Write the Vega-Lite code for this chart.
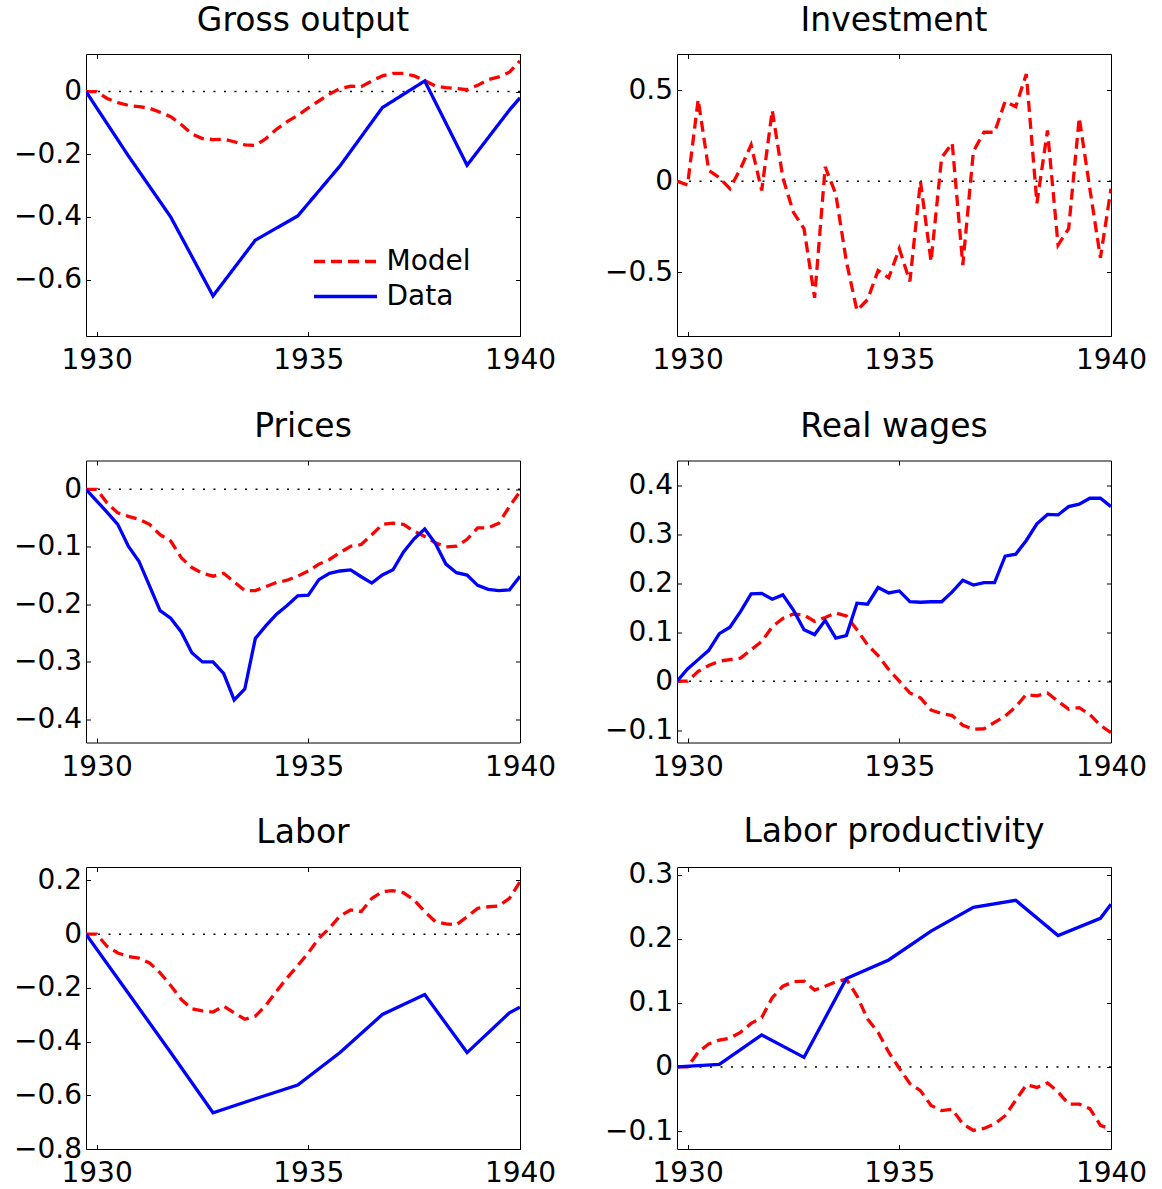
{
"$schema":"https://vega.github.io/schema/vega-lite/v6.json",
"background":"white",
"padding":{"left":13,"top":4,"right":0,"bottom":0},
"datasets":{
"G":[
{"s":"Model","x":1929.75,"y":0},{"s":"Model","x":1930,"y":0},{"s":"Model","x":1930.25,"y":-0.022},{"s":"Model","x":1930.5,"y":-0.035},{"s":"Model","x":1930.75,"y":-0.044},{"s":"Model","x":1931,"y":-0.048},{"s":"Model","x":1931.25,"y":-0.053},{"s":"Model","x":1931.5,"y":-0.066},{"s":"Model","x":1931.75,"y":-0.08},{"s":"Model","x":1932,"y":-0.105},{"s":"Model","x":1932.25,"y":-0.135},{"s":"Model","x":1932.5,"y":-0.15},{"s":"Model","x":1932.75,"y":-0.153},{"s":"Model","x":1933,"y":-0.152},{"s":"Model","x":1933.25,"y":-0.16},{"s":"Model","x":1933.5,"y":-0.17},{"s":"Model","x":1933.75,"y":-0.172},{"s":"Model","x":1934,"y":-0.15},{"s":"Model","x":1934.25,"y":-0.12},{"s":"Model","x":1934.5,"y":-0.096},{"s":"Model","x":1934.75,"y":-0.076},{"s":"Model","x":1935,"y":-0.052},{"s":"Model","x":1935.25,"y":-0.03},{"s":"Model","x":1935.5,"y":-0.008},{"s":"Model","x":1935.75,"y":0.01},{"s":"Model","x":1936,"y":0.017},{"s":"Model","x":1936.25,"y":0.016},{"s":"Model","x":1936.5,"y":0.034},{"s":"Model","x":1936.75,"y":0.05},{"s":"Model","x":1937,"y":0.058},{"s":"Model","x":1937.25,"y":0.058},{"s":"Model","x":1937.5,"y":0.05},{"s":"Model","x":1937.75,"y":0.035},{"s":"Model","x":1938,"y":0.018},{"s":"Model","x":1938.25,"y":0.013},{"s":"Model","x":1938.5,"y":0.01},{"s":"Model","x":1938.75,"y":0.006},{"s":"Model","x":1939,"y":0.02},{"s":"Model","x":1939.25,"y":0.038},{"s":"Model","x":1939.5,"y":0.047},{"s":"Model","x":1939.75,"y":0.062},{"s":"Model","x":1940,"y":0.098},
{"s":"Data","x":1929.75,"y":0},{"s":"Data","x":1930.75,"y":-0.205},{"s":"Data","x":1931.75,"y":-0.4},{"s":"Data","x":1932.75,"y":-0.652},{"s":"Data","x":1933.75,"y":-0.474},{"s":"Data","x":1934.75,"y":-0.397},{"s":"Data","x":1935.75,"y":-0.237},{"s":"Data","x":1936.75,"y":-0.051},{"s":"Data","x":1937.75,"y":0.034},{"s":"Data","x":1938.75,"y":-0.235},{"s":"Data","x":1939.75,"y":-0.059},{"s":"Data","x":1940,"y":-0.02}
],
"I":[
{"s":"Model","x":1929.75,"y":0},{"s":"Model","x":1930,"y":-0.02},{"s":"Model","x":1930.25,"y":0.45},{"s":"Model","x":1930.5,"y":0.06},{"s":"Model","x":1930.75,"y":0.02},{"s":"Model","x":1931,"y":-0.04},{"s":"Model","x":1931.25,"y":0.07},{"s":"Model","x":1931.5,"y":0.2},{"s":"Model","x":1931.75,"y":-0.05},{"s":"Model","x":1932,"y":0.39},{"s":"Model","x":1932.25,"y":0.02},{"s":"Model","x":1932.5,"y":-0.17},{"s":"Model","x":1932.75,"y":-0.26},{"s":"Model","x":1933,"y":-0.64},{"s":"Model","x":1933.25,"y":0.08},{"s":"Model","x":1933.5,"y":-0.07},{"s":"Model","x":1933.75,"y":-0.44},{"s":"Model","x":1934,"y":-0.71},{"s":"Model","x":1934.25,"y":-0.65},{"s":"Model","x":1934.5,"y":-0.49},{"s":"Model","x":1934.75,"y":-0.53},{"s":"Model","x":1935,"y":-0.37},{"s":"Model","x":1935.25,"y":-0.55},{"s":"Model","x":1935.5,"y":0},{"s":"Model","x":1935.75,"y":-0.44},{"s":"Model","x":1936,"y":0.13},{"s":"Model","x":1936.25,"y":0.21},{"s":"Model","x":1936.5,"y":-0.46},{"s":"Model","x":1936.75,"y":0.165},{"s":"Model","x":1937,"y":0.27},{"s":"Model","x":1937.25,"y":0.27},{"s":"Model","x":1937.5,"y":0.44},{"s":"Model","x":1937.75,"y":0.41},{"s":"Model","x":1938,"y":0.59},{"s":"Model","x":1938.25,"y":-0.12},{"s":"Model","x":1938.5,"y":0.28},{"s":"Model","x":1938.75,"y":-0.35},{"s":"Model","x":1939,"y":-0.26},{"s":"Model","x":1939.25,"y":0.35},{"s":"Model","x":1939.5,"y":-0.04},{"s":"Model","x":1939.75,"y":-0.42},{"s":"Model","x":1940,"y":-0.04}
],
"P":[
{"s":"Model","x":1929.75,"y":0},{"s":"Model","x":1930,"y":0},{"s":"Model","x":1930.25,"y":-0.024},{"s":"Model","x":1930.5,"y":-0.041},{"s":"Model","x":1930.75,"y":-0.047},{"s":"Model","x":1931,"y":-0.052},{"s":"Model","x":1931.25,"y":-0.061},{"s":"Model","x":1931.5,"y":-0.079},{"s":"Model","x":1931.75,"y":-0.09},{"s":"Model","x":1932,"y":-0.119},{"s":"Model","x":1932.25,"y":-0.136},{"s":"Model","x":1932.5,"y":-0.146},{"s":"Model","x":1932.75,"y":-0.151},{"s":"Model","x":1933,"y":-0.146},{"s":"Model","x":1933.25,"y":-0.161},{"s":"Model","x":1933.5,"y":-0.176},{"s":"Model","x":1933.75,"y":-0.176},{"s":"Model","x":1934,"y":-0.169},{"s":"Model","x":1934.25,"y":-0.162},{"s":"Model","x":1934.5,"y":-0.158},{"s":"Model","x":1934.75,"y":-0.151},{"s":"Model","x":1935,"y":-0.142},{"s":"Model","x":1935.25,"y":-0.13},{"s":"Model","x":1935.5,"y":-0.122},{"s":"Model","x":1935.75,"y":-0.11},{"s":"Model","x":1936,"y":-0.099},{"s":"Model","x":1936.25,"y":-0.096},{"s":"Model","x":1936.5,"y":-0.079},{"s":"Model","x":1936.75,"y":-0.061},{"s":"Model","x":1937,"y":-0.059},{"s":"Model","x":1937.25,"y":-0.061},{"s":"Model","x":1937.5,"y":-0.073},{"s":"Model","x":1937.75,"y":-0.082},{"s":"Model","x":1938,"y":-0.093},{"s":"Model","x":1938.25,"y":-0.1},{"s":"Model","x":1938.5,"y":-0.099},{"s":"Model","x":1938.75,"y":-0.087},{"s":"Model","x":1939,"y":-0.067},{"s":"Model","x":1939.25,"y":-0.067},{"s":"Model","x":1939.5,"y":-0.059},{"s":"Model","x":1939.75,"y":-0.03},{"s":"Model","x":1940,"y":-0.004},
{"s":"Data","x":1929.75,"y":0},{"s":"Data","x":1930,"y":-0.02},{"s":"Data","x":1930.25,"y":-0.04},{"s":"Data","x":1930.5,"y":-0.061},{"s":"Data","x":1930.75,"y":-0.099},{"s":"Data","x":1931,"y":-0.125},{"s":"Data","x":1931.25,"y":-0.168},{"s":"Data","x":1931.5,"y":-0.211},{"s":"Data","x":1931.75,"y":-0.224},{"s":"Data","x":1932,"y":-0.248},{"s":"Data","x":1932.25,"y":-0.284},{"s":"Data","x":1932.5,"y":-0.3},{"s":"Data","x":1932.75,"y":-0.3},{"s":"Data","x":1933,"y":-0.32},{"s":"Data","x":1933.25,"y":-0.366},{"s":"Data","x":1933.5,"y":-0.347},{"s":"Data","x":1933.75,"y":-0.259},{"s":"Data","x":1934,"y":-0.237},{"s":"Data","x":1934.25,"y":-0.217},{"s":"Data","x":1934.5,"y":-0.202},{"s":"Data","x":1934.75,"y":-0.185},{"s":"Data","x":1935,"y":-0.184},{"s":"Data","x":1935.25,"y":-0.157},{"s":"Data","x":1935.5,"y":-0.146},{"s":"Data","x":1935.75,"y":-0.142},{"s":"Data","x":1936,"y":-0.14},{"s":"Data","x":1936.25,"y":-0.152},{"s":"Data","x":1936.5,"y":-0.163},{"s":"Data","x":1936.75,"y":-0.149},{"s":"Data","x":1937,"y":-0.14},{"s":"Data","x":1937.25,"y":-0.109},{"s":"Data","x":1937.5,"y":-0.086},{"s":"Data","x":1937.75,"y":-0.069},{"s":"Data","x":1938,"y":-0.094},{"s":"Data","x":1938.25,"y":-0.13},{"s":"Data","x":1938.5,"y":-0.145},{"s":"Data","x":1938.75,"y":-0.149},{"s":"Data","x":1939,"y":-0.167},{"s":"Data","x":1939.25,"y":-0.174},{"s":"Data","x":1939.5,"y":-0.176},{"s":"Data","x":1939.75,"y":-0.175},{"s":"Data","x":1940,"y":-0.151}
],
"W":[
{"s":"Model","x":1929.75,"y":0},{"s":"Model","x":1930,"y":0},{"s":"Model","x":1930.25,"y":0.02},{"s":"Model","x":1930.5,"y":0.032},{"s":"Model","x":1930.75,"y":0.041},{"s":"Model","x":1931,"y":0.044},{"s":"Model","x":1931.25,"y":0.047},{"s":"Model","x":1931.5,"y":0.064},{"s":"Model","x":1931.75,"y":0.081},{"s":"Model","x":1932,"y":0.111},{"s":"Model","x":1932.25,"y":0.128},{"s":"Model","x":1932.5,"y":0.137},{"s":"Model","x":1932.75,"y":0.135},{"s":"Model","x":1933,"y":0.122},{"s":"Model","x":1933.25,"y":0.13},{"s":"Model","x":1933.5,"y":0.139},{"s":"Model","x":1933.75,"y":0.133},{"s":"Model","x":1934,"y":0.105},{"s":"Model","x":1934.25,"y":0.074},{"s":"Model","x":1934.5,"y":0.052},{"s":"Model","x":1934.75,"y":0.024},{"s":"Model","x":1935,"y":0},{"s":"Model","x":1935.25,"y":-0.024},{"s":"Model","x":1935.5,"y":-0.034},{"s":"Model","x":1935.75,"y":-0.059},{"s":"Model","x":1936,"y":-0.066},{"s":"Model","x":1936.25,"y":-0.07},{"s":"Model","x":1936.5,"y":-0.09},{"s":"Model","x":1936.75,"y":-0.098},{"s":"Model","x":1937,"y":-0.097},{"s":"Model","x":1937.25,"y":-0.084},{"s":"Model","x":1937.5,"y":-0.071},{"s":"Model","x":1937.75,"y":-0.052},{"s":"Model","x":1938,"y":-0.027},{"s":"Model","x":1938.25,"y":-0.03},{"s":"Model","x":1938.5,"y":-0.024},{"s":"Model","x":1938.75,"y":-0.041},{"s":"Model","x":1939,"y":-0.057},{"s":"Model","x":1939.25,"y":-0.054},{"s":"Model","x":1939.5,"y":-0.068},{"s":"Model","x":1939.75,"y":-0.09},{"s":"Model","x":1940,"y":-0.105},
{"s":"Data","x":1929.75,"y":0},{"s":"Data","x":1930,"y":0.025},{"s":"Data","x":1930.25,"y":0.044},{"s":"Data","x":1930.5,"y":0.063},{"s":"Data","x":1930.75,"y":0.097},{"s":"Data","x":1931,"y":0.11},{"s":"Data","x":1931.25,"y":0.142},{"s":"Data","x":1931.5,"y":0.178},{"s":"Data","x":1931.75,"y":0.179},{"s":"Data","x":1932,"y":0.167},{"s":"Data","x":1932.25,"y":0.176},{"s":"Data","x":1932.5,"y":0.145},{"s":"Data","x":1932.75,"y":0.105},{"s":"Data","x":1933,"y":0.095},{"s":"Data","x":1933.25,"y":0.124},{"s":"Data","x":1933.5,"y":0.088},{"s":"Data","x":1933.75,"y":0.093},{"s":"Data","x":1934,"y":0.159},{"s":"Data","x":1934.25,"y":0.157},{"s":"Data","x":1934.5,"y":0.191},{"s":"Data","x":1934.75,"y":0.18},{"s":"Data","x":1935,"y":0.184},{"s":"Data","x":1935.25,"y":0.162},{"s":"Data","x":1935.5,"y":0.161},{"s":"Data","x":1935.75,"y":0.162},{"s":"Data","x":1936,"y":0.162},{"s":"Data","x":1936.25,"y":0.182},{"s":"Data","x":1936.5,"y":0.206},{"s":"Data","x":1936.75,"y":0.196},{"s":"Data","x":1937,"y":0.201},{"s":"Data","x":1937.25,"y":0.201},{"s":"Data","x":1937.5,"y":0.255},{"s":"Data","x":1937.75,"y":0.259},{"s":"Data","x":1938,"y":0.287},{"s":"Data","x":1938.25,"y":0.321},{"s":"Data","x":1938.5,"y":0.34},{"s":"Data","x":1938.75,"y":0.339},{"s":"Data","x":1939,"y":0.356},{"s":"Data","x":1939.25,"y":0.361},{"s":"Data","x":1939.5,"y":0.373},{"s":"Data","x":1939.75,"y":0.373},{"s":"Data","x":1940,"y":0.356}
],
"L":[
{"s":"Model","x":1929.75,"y":0},{"s":"Model","x":1930,"y":0},{"s":"Model","x":1930.25,"y":-0.046},{"s":"Model","x":1930.5,"y":-0.07},{"s":"Model","x":1930.75,"y":-0.083},{"s":"Model","x":1931,"y":-0.089},{"s":"Model","x":1931.25,"y":-0.107},{"s":"Model","x":1931.5,"y":-0.144},{"s":"Model","x":1931.75,"y":-0.191},{"s":"Model","x":1932,"y":-0.243},{"s":"Model","x":1932.25,"y":-0.278},{"s":"Model","x":1932.5,"y":-0.286},{"s":"Model","x":1932.75,"y":-0.29},{"s":"Model","x":1933,"y":-0.268},{"s":"Model","x":1933.25,"y":-0.293},{"s":"Model","x":1933.5,"y":-0.317},{"s":"Model","x":1933.75,"y":-0.305},{"s":"Model","x":1934,"y":-0.265},{"s":"Model","x":1934.25,"y":-0.212},{"s":"Model","x":1934.5,"y":-0.163},{"s":"Model","x":1934.75,"y":-0.117},{"s":"Model","x":1935,"y":-0.07},{"s":"Model","x":1935.25,"y":-0.015},{"s":"Model","x":1935.5,"y":0.022},{"s":"Model","x":1935.75,"y":0.068},{"s":"Model","x":1936,"y":0.09},{"s":"Model","x":1936.25,"y":0.084},{"s":"Model","x":1936.5,"y":0.133},{"s":"Model","x":1936.75,"y":0.158},{"s":"Model","x":1937,"y":0.162},{"s":"Model","x":1937.25,"y":0.154},{"s":"Model","x":1937.5,"y":0.127},{"s":"Model","x":1937.75,"y":0.084},{"s":"Model","x":1938,"y":0.047},{"s":"Model","x":1938.25,"y":0.038},{"s":"Model","x":1938.5,"y":0.035},{"s":"Model","x":1938.75,"y":0.065},{"s":"Model","x":1939,"y":0.096},{"s":"Model","x":1939.25,"y":0.102},{"s":"Model","x":1939.5,"y":0.105},{"s":"Model","x":1939.75,"y":0.133},{"s":"Model","x":1940,"y":0.195},
{"s":"Data","x":1929.75,"y":0},{"s":"Data","x":1930.75,"y":-0.22},{"s":"Data","x":1931.75,"y":-0.441},{"s":"Data","x":1932.75,"y":-0.665},{"s":"Data","x":1933.75,"y":-0.613},{"s":"Data","x":1934.75,"y":-0.562},{"s":"Data","x":1935.75,"y":-0.441},{"s":"Data","x":1936.75,"y":-0.299},{"s":"Data","x":1937.75,"y":-0.225},{"s":"Data","x":1938.75,"y":-0.441},{"s":"Data","x":1939.75,"y":-0.293},{"s":"Data","x":1940,"y":-0.272}
],
"LP":[
{"s":"Model","x":1929.75,"y":0},{"s":"Model","x":1930,"y":0},{"s":"Model","x":1930.25,"y":0.023},{"s":"Model","x":1930.5,"y":0.036},{"s":"Model","x":1930.75,"y":0.042},{"s":"Model","x":1931,"y":0.045},{"s":"Model","x":1931.25,"y":0.054},{"s":"Model","x":1931.5,"y":0.068},{"s":"Model","x":1931.75,"y":0.077},{"s":"Model","x":1932,"y":0.108},{"s":"Model","x":1932.25,"y":0.126},{"s":"Model","x":1932.5,"y":0.133},{"s":"Model","x":1932.75,"y":0.134},{"s":"Model","x":1933,"y":0.12},{"s":"Model","x":1933.25,"y":0.126},{"s":"Model","x":1933.5,"y":0.133},{"s":"Model","x":1933.75,"y":0.137},{"s":"Model","x":1934,"y":0.111},{"s":"Model","x":1934.25,"y":0.075},{"s":"Model","x":1934.5,"y":0.054},{"s":"Model","x":1934.75,"y":0.023},{"s":"Model","x":1935,"y":-0.002},{"s":"Model","x":1935.25,"y":-0.026},{"s":"Model","x":1935.5,"y":-0.037},{"s":"Model","x":1935.75,"y":-0.06},{"s":"Model","x":1936,"y":-0.068},{"s":"Model","x":1936.25,"y":-0.066},{"s":"Model","x":1936.5,"y":-0.089},{"s":"Model","x":1936.75,"y":-0.099},{"s":"Model","x":1937,"y":-0.096},{"s":"Model","x":1937.25,"y":-0.089},{"s":"Model","x":1937.5,"y":-0.076},{"s":"Model","x":1937.75,"y":-0.052},{"s":"Model","x":1938,"y":-0.028},{"s":"Model","x":1938.25,"y":-0.032},{"s":"Model","x":1938.5,"y":-0.025},{"s":"Model","x":1938.75,"y":-0.039},{"s":"Model","x":1939,"y":-0.058},{"s":"Model","x":1939.25,"y":-0.058},{"s":"Model","x":1939.5,"y":-0.065},{"s":"Model","x":1939.75,"y":-0.091},{"s":"Model","x":1940,"y":-0.097},
{"s":"Data","x":1929.75,"y":0},{"s":"Data","x":1930.75,"y":0.004},{"s":"Data","x":1931.75,"y":0.05},{"s":"Data","x":1932.75,"y":0.015},{"s":"Data","x":1933.75,"y":0.138},{"s":"Data","x":1934.75,"y":0.167},{"s":"Data","x":1935.75,"y":0.212},{"s":"Data","x":1936.75,"y":0.249},{"s":"Data","x":1937.75,"y":0.26},{"s":"Data","x":1938.75,"y":0.205},{"s":"Data","x":1939.75,"y":0.232},{"s":"Data","x":1940,"y":0.254}
]
},
"concat":[
{"width":434,"height":282,"title":"Gross output","layer":[
{"data":{"values":[{}]},"mark":{"type":"rule","color":"black","strokeWidth":1.5,"strokeDash":[2,8.5]},"encoding":{"y":{"datum":0,"type":"quantitative","scale":{"domain":[-0.78,0.12],"nice":false,"zero":false},"axis":null}}},
{"data":{"name":"G"},"transform":[{"filter":"datum.s=='Model'"}],"mark":{"type":"line","clip":true,"strokeWidth":3.3},"encoding":{
"x":{"field":"x","type":"quantitative","scale":{"domain":[1929.75,1940],"nice":false,"zero":false},"axis":{"orient":"bottom","values":[1930,1935,1940],"format":"d","title":null}},
"y":{"field":"y","type":"quantitative","scale":{"domain":[-0.78,0.12],"nice":false,"zero":false},"axis":{"orient":"left","values":[-0.6,-0.4,-0.2,0],"format":"~g","title":null}},
"color":{"field":"s","type":"nominal","scale":{"domain":["Model","Data"],"range":["#ff0000","#0000ff"]},"legend":{"orient":"none","legendX":245,"legendY":193,"title":null,"symbolType":"M-2.52,0H2.52","symbolSize":625,"symbolStrokeWidth":3.3,"symbolFillColor":"transparent","labelFontSize":28,"labelFont":"DejaVu Sans","labelColor":"black","labelOffset":26.5,"padding":0,"rowPadding":6}},
"strokeDash":{"field":"s","type":"nominal","scale":{"domain":["Model","Data"],"range":[[11,6],[1,0]]},"legend":{"orient":"none","legendX":245,"legendY":193,"title":null,"symbolType":"M-2.52,0H2.52","symbolSize":625,"symbolStrokeWidth":3.3,"symbolFillColor":"transparent","labelFontSize":28,"labelFont":"DejaVu Sans","labelColor":"black","labelOffset":26.5,"padding":0,"rowPadding":6}}}},
{"data":{"name":"G"},"transform":[{"filter":"datum.s=='Data'"}],"mark":{"type":"line","clip":true,"strokeWidth":3.3},"encoding":{
"x":{"field":"x","type":"quantitative","scale":{"domain":[1929.75,1940],"nice":false,"zero":false},"axis":null},
"y":{"field":"y","type":"quantitative","scale":{"domain":[-0.78,0.12],"nice":false,"zero":false},"axis":null},
"color":{"field":"s","type":"nominal","scale":{"domain":["Model","Data"],"range":["#ff0000","#0000ff"]},"legend":{"orient":"none","legendX":245,"legendY":193,"title":null,"symbolType":"M-2.52,0H2.52","symbolSize":625,"symbolStrokeWidth":3.3,"symbolFillColor":"transparent","labelFontSize":28,"labelFont":"DejaVu Sans","labelColor":"black","labelOffset":26.5,"padding":0,"rowPadding":6}},
"strokeDash":{"field":"s","type":"nominal","scale":{"domain":["Model","Data"],"range":[[11,6],[1,0]]},"legend":{"orient":"none","legendX":245,"legendY":193,"title":null,"symbolType":"M-2.52,0H2.52","symbolSize":625,"symbolStrokeWidth":3.3,"symbolFillColor":"transparent","labelFontSize":28,"labelFont":"DejaVu Sans","labelColor":"black","labelOffset":26.5,"padding":0,"rowPadding":6}}}},
{"data":{"name":"G"},"mark":{"type":"line","opacity":0},"encoding":{
"x":{"field":"x","type":"quantitative","scale":{"domain":[1929.75,1940],"nice":false,"zero":false},"axis":{"orient":"top","values":[1930,1935,1940],"labels":false,"title":null}},
"y":{"field":"y","type":"quantitative","scale":{"domain":[-0.78,0.12],"nice":false,"zero":false},"axis":{"orient":"right","values":[-0.6,-0.4,-0.2,0],"labels":false,"title":null}},
"detail":{"field":"s"}}}
],"resolve":{"axis":{"x":"independent","y":"independent"}}},
{"width":434,"height":282,"title":"Investment","layer":[
{"data":{"values":[{}]},"mark":{"type":"rule","color":"black","strokeWidth":1.5,"strokeDash":[2,8.5]},"encoding":{"y":{"datum":0,"type":"quantitative","scale":{"domain":[-0.85,0.7],"nice":false,"zero":false},"axis":null}}},
{"data":{"name":"I"},"transform":[{"filter":"datum.s=='Model'"}],"mark":{"type":"line","clip":true,"strokeWidth":3.3,"color":"#ff0000","strokeDash":[11,6]},"encoding":{
"x":{"field":"x","type":"quantitative","scale":{"domain":[1929.75,1940],"nice":false,"zero":false},"axis":{"orient":"bottom","values":[1930,1935,1940],"format":"d","title":null}},
"y":{"field":"y","type":"quantitative","scale":{"domain":[-0.85,0.7],"nice":false,"zero":false},"axis":{"orient":"left","values":[-0.5,0,0.5],"format":"~g","title":null}}}},
{"data":{"name":"I"},"mark":{"type":"line","opacity":0},"encoding":{
"x":{"field":"x","type":"quantitative","scale":{"domain":[1929.75,1940],"nice":false,"zero":false},"axis":{"orient":"top","values":[1930,1935,1940],"labels":false,"title":null}},
"y":{"field":"y","type":"quantitative","scale":{"domain":[-0.85,0.7],"nice":false,"zero":false},"axis":{"orient":"right","values":[-0.5,0,0.5],"labels":false,"title":null}}}}
],"resolve":{"axis":{"x":"independent","y":"independent"}}},
{"width":434,"height":282,"title":"Prices","layer":[
{"data":{"values":[{}]},"mark":{"type":"rule","color":"black","strokeWidth":1.5,"strokeDash":[2,8.5]},"encoding":{"y":{"datum":0,"type":"quantitative","scale":{"domain":[-0.44,0.05],"nice":false,"zero":false},"axis":null}}},
{"data":{"name":"P"},"transform":[{"filter":"datum.s=='Model'"}],"mark":{"type":"line","clip":true,"strokeWidth":3.3,"color":"#ff0000","strokeDash":[11,6]},"encoding":{
"x":{"field":"x","type":"quantitative","scale":{"domain":[1929.75,1940],"nice":false,"zero":false},"axis":{"orient":"bottom","values":[1930,1935,1940],"format":"d","title":null}},
"y":{"field":"y","type":"quantitative","scale":{"domain":[-0.44,0.05],"nice":false,"zero":false},"axis":{"orient":"left","values":[-0.4,-0.3,-0.2,-0.1,0],"format":"~g","title":null}}}},
{"data":{"name":"P"},"transform":[{"filter":"datum.s=='Data'"}],"mark":{"type":"line","clip":true,"strokeWidth":3.3,"color":"#0000ff"},"encoding":{
"x":{"field":"x","type":"quantitative","scale":{"domain":[1929.75,1940],"nice":false,"zero":false},"axis":null},
"y":{"field":"y","type":"quantitative","scale":{"domain":[-0.44,0.05],"nice":false,"zero":false},"axis":null}}},
{"data":{"name":"P"},"mark":{"type":"line","opacity":0},"encoding":{
"x":{"field":"x","type":"quantitative","scale":{"domain":[1929.75,1940],"nice":false,"zero":false},"axis":{"orient":"top","values":[1930,1935,1940],"labels":false,"title":null}},
"y":{"field":"y","type":"quantitative","scale":{"domain":[-0.44,0.05],"nice":false,"zero":false},"axis":{"orient":"right","values":[-0.4,-0.3,-0.2,-0.1,0],"labels":false,"title":null}},
"detail":{"field":"s"}}}
],"resolve":{"axis":{"x":"independent","y":"independent"}}},
{"width":434,"height":282,"title":"Real wages","layer":[
{"data":{"values":[{}]},"mark":{"type":"rule","color":"black","strokeWidth":1.5,"strokeDash":[2,8.5]},"encoding":{"y":{"datum":0,"type":"quantitative","scale":{"domain":[-0.125,0.45],"nice":false,"zero":false},"axis":null}}},
{"data":{"name":"W"},"transform":[{"filter":"datum.s=='Model'"}],"mark":{"type":"line","clip":true,"strokeWidth":3.3,"color":"#ff0000","strokeDash":[11,6]},"encoding":{
"x":{"field":"x","type":"quantitative","scale":{"domain":[1929.75,1940],"nice":false,"zero":false},"axis":{"orient":"bottom","values":[1930,1935,1940],"format":"d","title":null}},
"y":{"field":"y","type":"quantitative","scale":{"domain":[-0.125,0.45],"nice":false,"zero":false},"axis":{"orient":"left","values":[-0.1,0,0.1,0.2,0.3,0.4],"format":"~g","title":null}}}},
{"data":{"name":"W"},"transform":[{"filter":"datum.s=='Data'"}],"mark":{"type":"line","clip":true,"strokeWidth":3.3,"color":"#0000ff"},"encoding":{
"x":{"field":"x","type":"quantitative","scale":{"domain":[1929.75,1940],"nice":false,"zero":false},"axis":null},
"y":{"field":"y","type":"quantitative","scale":{"domain":[-0.125,0.45],"nice":false,"zero":false},"axis":null}}},
{"data":{"name":"W"},"mark":{"type":"line","opacity":0},"encoding":{
"x":{"field":"x","type":"quantitative","scale":{"domain":[1929.75,1940],"nice":false,"zero":false},"axis":{"orient":"top","values":[1930,1935,1940],"labels":false,"title":null}},
"y":{"field":"y","type":"quantitative","scale":{"domain":[-0.125,0.45],"nice":false,"zero":false},"axis":{"orient":"right","values":[-0.1,0,0.1,0.2,0.3,0.4],"labels":false,"title":null}},
"detail":{"field":"s"}}}
],"resolve":{"axis":{"x":"independent","y":"independent"}}},
{"width":434,"height":282,"title":"Labor","layer":[
{"data":{"values":[{}]},"mark":{"type":"rule","color":"black","strokeWidth":1.5,"strokeDash":[2,8.5]},"encoding":{"y":{"datum":0,"type":"quantitative","scale":{"domain":[-0.8,0.25],"nice":false,"zero":false},"axis":null}}},
{"data":{"name":"L"},"transform":[{"filter":"datum.s=='Model'"}],"mark":{"type":"line","clip":true,"strokeWidth":3.3,"color":"#ff0000","strokeDash":[11,6]},"encoding":{
"x":{"field":"x","type":"quantitative","scale":{"domain":[1929.75,1940],"nice":false,"zero":false},"axis":{"orient":"bottom","values":[1930,1935,1940],"format":"d","title":null}},
"y":{"field":"y","type":"quantitative","scale":{"domain":[-0.8,0.25],"nice":false,"zero":false},"axis":{"orient":"left","values":[-0.8,-0.6,-0.4,-0.2,0,0.2],"format":"~g","title":null}}}},
{"data":{"name":"L"},"transform":[{"filter":"datum.s=='Data'"}],"mark":{"type":"line","clip":true,"strokeWidth":3.3,"color":"#0000ff"},"encoding":{
"x":{"field":"x","type":"quantitative","scale":{"domain":[1929.75,1940],"nice":false,"zero":false},"axis":null},
"y":{"field":"y","type":"quantitative","scale":{"domain":[-0.8,0.25],"nice":false,"zero":false},"axis":null}}},
{"data":{"name":"L"},"mark":{"type":"line","opacity":0},"encoding":{
"x":{"field":"x","type":"quantitative","scale":{"domain":[1929.75,1940],"nice":false,"zero":false},"axis":{"orient":"top","values":[1930,1935,1940],"labels":false,"title":null}},
"y":{"field":"y","type":"quantitative","scale":{"domain":[-0.8,0.25],"nice":false,"zero":false},"axis":{"orient":"right","values":[-0.8,-0.6,-0.4,-0.2,0,0.2],"labels":false,"title":null}},
"detail":{"field":"s"}}}
],"resolve":{"axis":{"x":"independent","y":"independent"}}},
{"width":434,"height":282,"title":{"text":"Labor productivity","offset":12},"layer":[
{"data":{"values":[{}]},"mark":{"type":"rule","color":"black","strokeWidth":1.5,"strokeDash":[2,8.5]},"encoding":{"y":{"datum":0,"type":"quantitative","scale":{"domain":[-0.128,0.312],"nice":false,"zero":false},"axis":null}}},
{"data":{"name":"LP"},"transform":[{"filter":"datum.s=='Model'"}],"mark":{"type":"line","clip":true,"strokeWidth":3.3,"color":"#ff0000","strokeDash":[11,6]},"encoding":{
"x":{"field":"x","type":"quantitative","scale":{"domain":[1929.75,1940],"nice":false,"zero":false},"axis":{"orient":"bottom","values":[1930,1935,1940],"format":"d","title":null}},
"y":{"field":"y","type":"quantitative","scale":{"domain":[-0.128,0.312],"nice":false,"zero":false},"axis":{"orient":"left","values":[-0.1,0,0.1,0.2,0.3],"format":"~g","title":null}}}},
{"data":{"name":"LP"},"transform":[{"filter":"datum.s=='Data'"}],"mark":{"type":"line","clip":true,"strokeWidth":3.3,"color":"#0000ff"},"encoding":{
"x":{"field":"x","type":"quantitative","scale":{"domain":[1929.75,1940],"nice":false,"zero":false},"axis":null},
"y":{"field":"y","type":"quantitative","scale":{"domain":[-0.128,0.312],"nice":false,"zero":false},"axis":null}}},
{"data":{"name":"LP"},"mark":{"type":"line","opacity":0},"encoding":{
"x":{"field":"x","type":"quantitative","scale":{"domain":[1929.75,1940],"nice":false,"zero":false},"axis":{"orient":"top","values":[1930,1935,1940],"labels":false,"title":null}},
"y":{"field":"y","type":"quantitative","scale":{"domain":[-0.128,0.312],"nice":false,"zero":false},"axis":{"orient":"right","values":[-0.1,0,0.1,0.2,0.3],"labels":false,"title":null}},
"detail":{"field":"s"}}}
],"resolve":{"axis":{"x":"independent","y":"independent"}}}
],
"columns":2,
"spacing":{"row":124.5,"column":157},
"bounds":"flush",
"resolve":{"scale":{"color":"independent","strokeDash":"independent"},"legend":{"color":"independent","strokeDash":"independent"}},
"config":{
"font":"DejaVu Sans",
"view":{"stroke":"black","strokeWidth":1},
"axis":{"grid":false,"domain":false,"tickColor":"black","tickSize":-4.5,"tickWidth":1,"labelFont":"DejaVu Sans","labelFontSize":28,"labelColor":"black","labelFlush":false,"labelOverlap":false,"labelBound":false},
"axisX":{"labelPadding":15},
"axisY":{"labelPadding":9},
"title":{"font":"DejaVu Sans","fontSize":33,"fontWeight":"normal","color":"black","anchor":"middle","offset":16,"baseline":"alphabetic"}
}
}
